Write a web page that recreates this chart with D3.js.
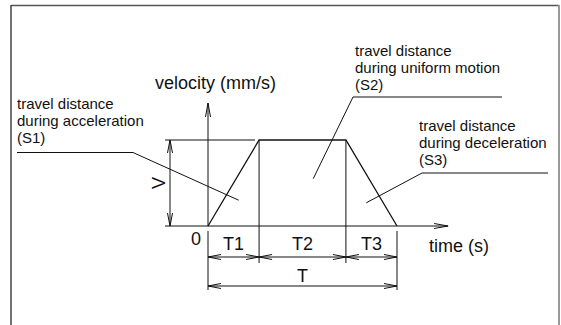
<!DOCTYPE html>
<html>
<head>
<meta charset="utf-8">
<script src="https://cdn.jsdelivr.net/npm/d3@7"></script>
<style>
html, body { margin: 0; padding: 0; background: #fff; }
svg { display: block; font-family: "Liberation Sans", Arial, Helvetica, sans-serif; }
</style>
</head>
<body>
<div id="chart"></div>
<script>
// 运动阶段
const phases = ['T1', 'T2', 'T3'];
const durations = [1, 1.7, 1];
// 速度曲线 (时间, 速度)
const profileTime = [0, 1, 2.7, 3.7];
const profileVel = [0, 1, 1, 0];
const peakLabel = 'V';
const totalLabel = 'T';
const originLabel = '0';
const xTitle = 'time (s)';
const yTitle = 'velocity (mm/s)';
// 面积注释
const areaText = [
    ['travel distance', 'during acceleration', '(S1)'],
    ['travel distance', 'during uniform motion', '(S2)'],
    ['travel distance', 'during deceleration', '(S3)']
];
const areaAnchorTime = [0.6, 2.06, 3.1];
const areaAnchorVel = [0.3, 0.55, 0.27];

function drawProfile(containerId) {
    const W = 561, H = 325;
    const svg = d3.select(`#${containerId}`).append('svg')
        .attr('width', W).attr('height', H);

    // 外框
    svg.append('line').attr('x1', 11).attr('y1', 5.5).attr('x2', 559).attr('y2', 5.5)
        .attr('stroke', '#555').attr('stroke-width', 1.5);
    svg.append('line').attr('x1', 11).attr('y1', 5).attr('x2', 11).attr('y2', H)
        .attr('stroke', '#444').attr('stroke-width', 1.5);
    svg.append('line').attr('x1', 559).attr('y1', 5).attr('x2', 559).attr('y2', H)
        .attr('stroke', '#999').attr('stroke-width', 2);

    // 比例尺
    const tEnd = d3.sum(durations);
    const x = d3.scaleLinear().domain([0, tEnd]).range([208, 397]);
    const y = d3.scaleLinear().domain([0, 1]).range([226, 140]);
    const bounds = [0, ...Array.from(d3.cumsum(durations))];

    const ink = '#111';
    const g = svg.append('g').attr('stroke', ink).attr('fill', 'none').attr('stroke-width', 1);

    // 开口箭头
    function chevron(px, py, dx, dy, len = 12, spread = 3) {
        const nx = -dy, ny = dx;
        g.append('path')
            .attr('d', `M${px - dx * len + nx * spread},${py - dy * len + ny * spread}L${px},${py}L${px - dx * len - nx * spread},${py - dy * len - ny * spread}`);
    }

    // 坐标轴
    const x0 = x(0), yb = y(0);
    const xMax = x(4.7), yMax = y(1.43);
    g.append('line').attr('x1', 165).attr('y1', yb).attr('x2', xMax).attr('y2', yb);
    chevron(xMax, yb, 1, 0, 14, 2.5);
    g.append('line').attr('x1', x0).attr('y1', yb).attr('x2', x0).attr('y2', yMax);
    chevron(x0, yMax, 0, -1, 14, 2.5);

    // 速度曲线
    const line = d3.line().x((d, i) => x(profileTime[i])).y(d => y(d));
    g.append('path').attr('d', line(profileVel)).attr('stroke-width', 1.3);

    // V 尺寸
    g.append('line').attr('x1', 165).attr('y1', y(1)).attr('x2', x(0.92)).attr('y2', y(1));
    const vx = 170;
    g.append('line').attr('x1', vx).attr('y1', y(1)).attr('x2', vx).attr('y2', y(0));
    chevron(vx, y(1), 0, -1, 13, 2.5);
    chevron(vx, y(0), 0, 1, 13, 2.5);
    svg.append('text')
        .attr('transform', `translate(${vx - 5},${(y(0) + y(1)) / 2}) rotate(-90)`)
        .attr('text-anchor', 'middle')
        .style('font-size', '18px').style('fill', ink)
        .text(peakLabel);

    // 分段竖线
    bounds.forEach((t, i) => {
        const inner = i > 0 && i < bounds.length - 1;
        g.append('line')
            .attr('x1', x(t)).attr('x2', x(t))
            .attr('y1', inner ? y(1) : yb + 5)
            .attr('y2', inner ? 263 : 290);
    });

    // 分段尺寸
    const dimY = 257, totY = 286;
    phases.forEach((p, i) => {
        const a = x(bounds[i]), b = x(bounds[i + 1]);
        g.append('line').attr('x1', a).attr('y1', dimY).attr('x2', b).attr('y2', dimY);
        chevron(a, dimY, -1, 0, 13, 2.5);
        chevron(b, dimY, 1, 0, 13, 2.5);
        svg.append('text')
            .attr('x', (a + b) / 2).attr('y', 250)
            .attr('text-anchor', 'middle')
            .style('font-size', '18px').style('fill', ink)
            .text(p);
    });
    g.append('line').attr('x1', x(0)).attr('y1', totY).attr('x2', x(tEnd)).attr('y2', totY);
    chevron(x(0), totY, -1, 0, 13, 2.5);
    chevron(x(tEnd), totY, 1, 0, 13, 2.5);
    svg.append('text')
        .attr('x', (x(0) + x(tEnd)) / 2).attr('y', 282)
        .attr('text-anchor', 'middle')
        .style('font-size', '18px').style('fill', ink)
        .text(totalLabel);

    svg.append('text').attr('x', 196).attr('y', 245).attr('text-anchor', 'middle')
        .style('font-size', '18px').style('fill', ink).text(originLabel);

    // 轴标题
    svg.append('text').attr('x', 429).attr('y', 252)
        .style('font-size', '18px').style('fill', ink).text(xTitle);
    svg.append('text').attr('x', 155).attr('y', 89)
        .style('font-size', '18px').style('fill', ink).text(yTitle);

    // 注释文字和引线
    const layout = [
        {tx: 17, ty: 109, ly: 152.5, a: 17, b: 133, from: 'b'},
        {tx: 355, ty: 56, ly: 97, a: 353, b: 502, from: 'a'},
        {tx: 419, ty: 131, ly: 173, a: 422, b: 548, from: 'a'}
    ];
    areaText.forEach((lines, i) => {
        const L = layout[i];
        const t = svg.append('text')
            .attr('x', L.tx).attr('y', L.ty)
            .style('font-size', '15px').style('fill', ink);
        lines.forEach((s, j) => {
            t.append('tspan').attr('x', L.tx).attr('dy', j === 0 ? 0 : 17).text(s);
        });
        g.append('line').attr('x1', L.a).attr('y1', L.ly).attr('x2', L.b).attr('y2', L.ly);
        const ex = L.from === 'a' ? L.a : L.b;
        g.append('line').attr('x1', ex).attr('y1', L.ly)
            .attr('x2', x(areaAnchorTime[i])).attr('y2', y(areaAnchorVel[i]));
    });
}

drawProfile('chart');
</script>
</body>
</html>
